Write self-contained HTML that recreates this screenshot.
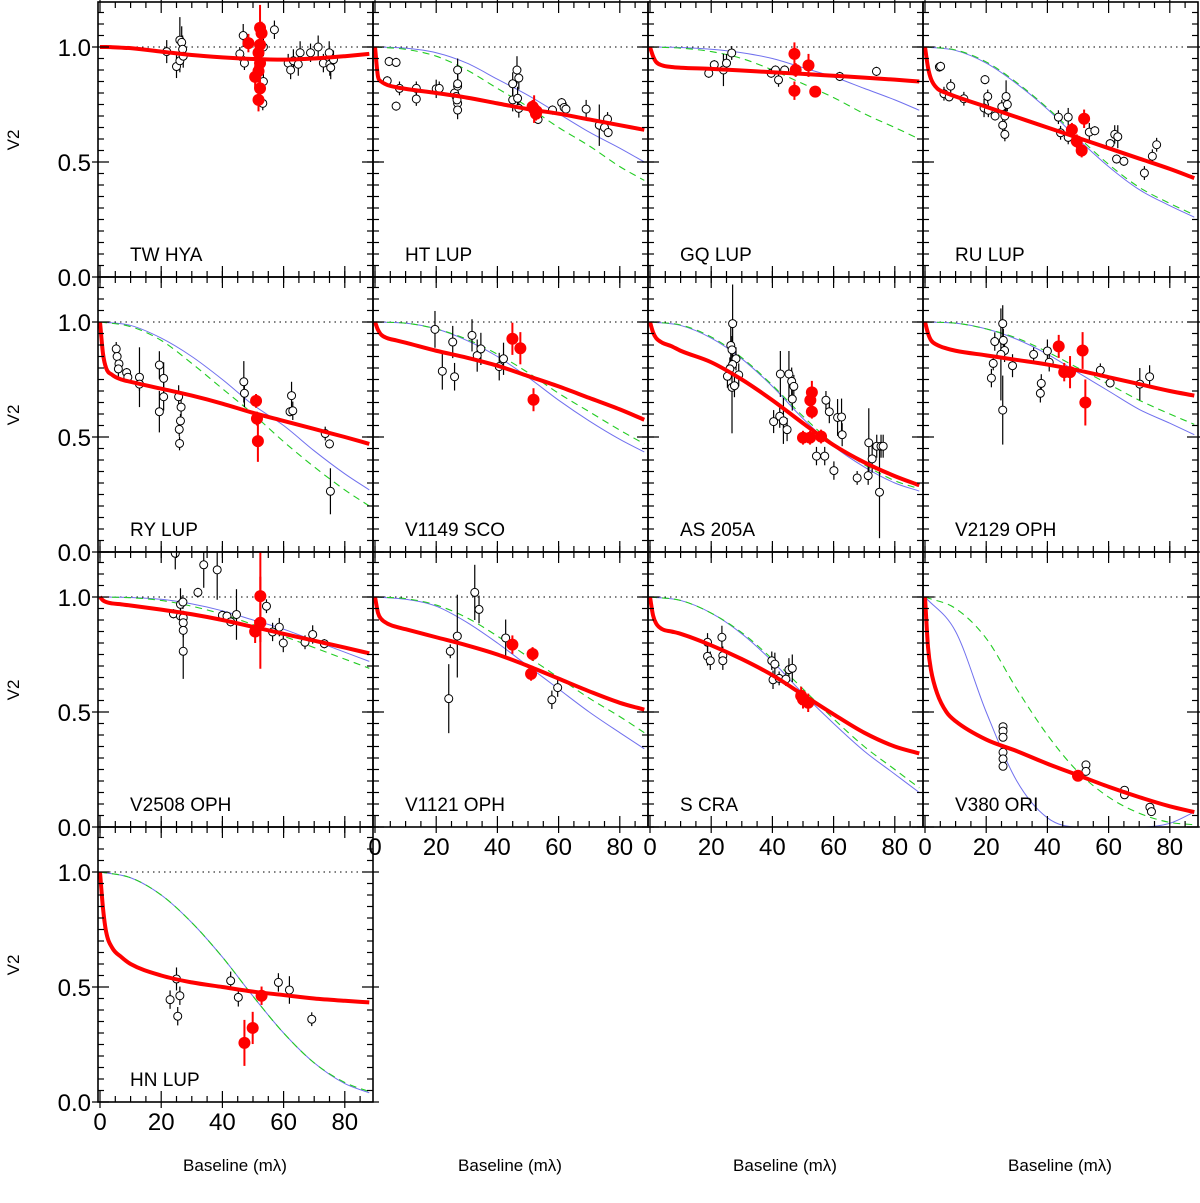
<!DOCTYPE html>
<html><head><meta charset="utf-8">
<style>
html,body{margin:0;padding:0;background:#fff;}
svg{display:block;font-family:"Liberation Sans",Arial,sans-serif;}
</style></head>
<body>
<svg id="fig" width="1200" height="1203" viewBox="0 0 1200 1203" xmlns="http://www.w3.org/2000/svg"></svg>
<script>
// ---------- shared grids ----------
const redGrid = [0,1,2,4,7,10,20,30,40,50,60,70,80,88];
const modelGrid = [0,10,20,30,40,50,60,70,80,88];
const yTickLabels = ["0.0","0.5","1.0"];
const yTickValues = [0,0.5,1.0];
const xTickLabels = ["0","20","40","60","80"];
const xTickValues = [0,20,40,60,80];

// ---------- TW HYA ----------
const twhyaOpen = [[21.8,0.98,0.05],[25,0.915,0.05],[26.1,1.03,0.1],[26.7,1.02,0.07],[27,0.99,0.06],[26.1,0.94,0.05],[27.2,0.96,0.05],[46.8,1.05,0.05],[45.7,0.97,0.03],[47.2,0.93,0.03],[53.4,1.0,0.04],[53.4,0.85,0.04],[53.2,0.755,0.03],[57,1.075,0.04],[61.5,0.93,0.04],[62.3,0.9,0.04],[63.2,0.94,0.05],[64.8,0.925,0.05],[65.4,0.975,0.05],[68.8,0.975,0.04],[71.3,1.0,0.05],[73,0.93,0.04],[74.9,0.975,0.05],[75.1,0.925,0.05],[75.4,0.91,0.05],[76.3,0.945,0.04]];
const twhyaRed = [[48.5,1.017,0.04],[52.3,1.083,0.1],[52.8,1.06,0.05],[52.3,1.01,0.05],[51.8,0.975,0.05],[52.3,0.93,0.05],[51.8,0.895,0.05],[50.7,0.87,0.05],[52.3,0.82,0.05],[51.8,0.77,0.05]];
const twhyaRedModel = [1,1,1,0.999,0.997,0.995,0.98,0.965,0.955,0.948,0.945,0.95,0.96,0.97];
const twhyaBlue = [1,0.995,0.98,0.965,0.955,0.948,0.945,0.95,0.96,0.97];
const twhyaGreen = [1,0.995,0.98,0.965,0.955,0.948,0.945,0.95,0.96,0.97];

// ---------- HT LUP ----------
const htlupOpen = [[4,0.853,0.02],[4.6,0.937,0.02],[6.9,0.933,0.02],[6.9,0.743,0.02],[8,0.82,0.03],[13.5,0.82,0.03],[13.5,0.774,0.03],[20,0.818,0.04],[21,0.82,0.03],[26,0.8,0.04],[26.5,0.785,0.05],[27,0.83,0.06],[27,0.755,0.04],[27,0.726,0.04],[27,0.9,0.05],[27,0.84,0.05],[26.8,0.77,0.04],[45,0.84,0.05],[45,0.77,0.05],[46.4,0.9,0.06],[47,0.865,0.05],[46.6,0.777,0.05],[47,0.733,0.04],[53.3,0.685,0.02],[58,0.726,0.02],[61,0.758,0.02],[61.8,0.737,0.03],[62.4,0.73,0.03],[69,0.73,0.04],[73.3,0.66,0.09],[75,0.65,0.02],[76,0.687,0.03],[76.2,0.628,0.02]];
const htlupRed = [[52,0.73,0.06],[52.6,0.71,0.03],[51.5,0.74,0.03],[52.8,0.72,0.03]];
const htlupRedModel = [1,0.87,0.85,0.835,0.825,0.818,0.8,0.78,0.755,0.73,0.71,0.685,0.66,0.64];
const htlupBlue = [1,0.995,0.975,0.93,0.86,0.79,0.71,0.63,0.56,0.5];
const htlupGreen = [1,0.99,0.96,0.9,0.82,0.74,0.65,0.57,0.48,0.42];

// ---------- GQ LUP ----------
const gqlupOpen = [[19.2,0.886,0.02],[21,0.923,0.02],[24,0.9,0.07],[25,0.93,0.04],[26.7,0.974,0.03],[39.6,0.886,0.02],[41,0.9,0.02],[42,0.857,0.03],[44,0.9,0.02],[62,0.872,0.02],[74,0.894,0.02]];
const gqlupRed = [[47.2,0.97,0.05],[47.2,0.81,0.04],[51.8,0.92,0.05],[54,0.806,0.02],[47.6,0.9,0.03]];
const gqlupRedModel = [1,0.96,0.935,0.92,0.913,0.91,0.905,0.898,0.89,0.883,0.875,0.867,0.858,0.85];
const gqlupBlue = [1,0.998,0.99,0.975,0.95,0.91,0.87,0.82,0.77,0.725];
const gqlupGreen = [1,0.995,0.98,0.95,0.9,0.84,0.78,0.71,0.65,0.6];

// ---------- RU LUP ----------
const rulupOpen = [[4.7,0.913,0.02],[5.1,0.916,0.02],[6.2,0.797,0.03],[7.9,0.783,0.02],[8.4,0.83,0.03],[12.7,0.775,0.03],[19.6,0.858,0.02],[19.3,0.735,0.04],[20.5,0.785,0.03],[20.7,0.725,0.03],[22.9,0.7,0.02],[25.1,0.74,0.03],[25.4,0.66,0.03],[26.1,0.62,0.03],[26.5,0.785,0.07],[26.9,0.75,0.03],[26.1,0.7,0.04],[43.6,0.695,0.03],[44.3,0.627,0.03],[46.8,0.695,0.04],[46.8,0.607,0.03],[53.7,0.63,0.04],[55.5,0.636,0.02],[60.5,0.58,0.02],[62,0.62,0.04],[63,0.61,0.05],[62.6,0.513,0.02],[65,0.503,0.02],[71.7,0.452,0.03],[74.3,0.525,0.03],[75.7,0.575,0.03]];
const rulupRed = [[52,0.688,0.04],[48,0.64,0.03],[49.6,0.59,0.03],[51.2,0.55,0.03]];
const rulupRedModel = [1,0.91,0.86,0.82,0.8,0.785,0.74,0.695,0.65,0.605,0.56,0.515,0.47,0.43];
const rulupBlue = [1,0.985,0.93,0.84,0.73,0.6,0.48,0.38,0.31,0.26];
const rulupGreen = [1,0.987,0.935,0.845,0.735,0.61,0.49,0.39,0.32,0.27];

// ---------- RY LUP ----------
const rylupOpen = [[5.3,0.883,0.03],[5.6,0.85,0.03],[6.2,0.818,0.04],[6,0.796,0.04],[8.7,0.78,0.02],[9.1,0.76,0.02],[12.9,0.76,0.13],[12.9,0.73,0.03],[19.4,0.813,0.06],[20.8,0.755,0.07],[20.8,0.675,0.06],[19.4,0.61,0.09],[25.7,0.675,0.05],[26.5,0.63,0.04],[26.3,0.57,0.03],[25.9,0.533,0.03],[26,0.472,0.03],[47,0.74,0.09],[47.2,0.69,0.06],[62.1,0.61,0.02],[63,0.614,0.04],[62.6,0.68,0.06],[73.6,0.515,0.03],[75,0.47,0.02],[75.3,0.264,0.1]];
const rylupRed = [[51,0.657,0.03],[51.3,0.58,0.03],[51.6,0.482,0.09]];
const rylupRedModel = [1,0.86,0.8,0.77,0.75,0.74,0.71,0.68,0.645,0.605,0.57,0.535,0.5,0.47];
const rylupBlue = [1,0.985,0.93,0.85,0.75,0.64,0.55,0.44,0.34,0.27];
const rylupGreen = [1,0.98,0.92,0.82,0.71,0.6,0.48,0.37,0.27,0.2];

// ---------- V1149 SCO ----------
const v1149Open = [[19.6,0.968,0.08],[22,0.786,0.08],[25.4,0.913,0.07],[26,0.762,0.06],[31.7,0.942,0.07],[33.4,0.854,0.07],[34.6,0.883,0.07],[40.6,0.806,0.06],[42,0.84,0.07]];
const v1149Red = [[44.9,0.927,0.07],[47.5,0.886,0.07],[51.8,0.662,0.05]];
const v1149RedModel = [1,0.965,0.945,0.93,0.92,0.91,0.875,0.845,0.81,0.765,0.72,0.67,0.62,0.575];
const v1149Blue = [1,0.995,0.97,0.92,0.85,0.76,0.66,0.57,0.49,0.435];
const v1149Green = [1,0.995,0.97,0.925,0.86,0.78,0.69,0.61,0.53,0.47];

// ---------- AS 205A ----------
const as205Open = [[27,0.993,0.17],[26.4,0.898,0.1],[26.8,0.879,0.06],[28.1,0.84,0.05],[27,0.815,0.05],[26.1,0.796,0.05],[25.3,0.764,0.05],[29,0.77,0.05],[26.8,0.716,0.2],[27.6,0.723,0.05],[42.6,0.774,0.1],[45.4,0.774,0.1],[46.3,0.742,0.06],[47,0.72,0.05],[46.5,0.665,0.05],[40.4,0.567,0.05],[42.4,0.59,0.05],[43.6,0.57,0.1],[44.8,0.532,0.05],[57.5,0.66,0.04],[58.6,0.61,0.05],[61.3,0.585,0.08],[62.6,0.587,0.08],[62.8,0.51,0.05],[54.4,0.417,0.04],[57.1,0.417,0.04],[60.1,0.354,0.04],[67.7,0.322,0.03],[71.3,0.332,0.04],[71.5,0.475,0.15],[72.6,0.405,0.06],[74.1,0.46,0.05],[75.5,0.46,0.05],[76.2,0.46,0.05],[75,0.26,0.2]];
const as205Red = [[52.9,0.694,0.05],[52.4,0.66,0.04],[52.9,0.61,0.03],[50,0.497,0.03],[52.3,0.497,0.03],[55.9,0.502,0.03]];
const as205RedModel = [1,0.955,0.93,0.91,0.895,0.875,0.825,0.75,0.66,0.56,0.465,0.39,0.33,0.29];
const as205Blue = [1,0.985,0.93,0.84,0.72,0.58,0.46,0.37,0.3,0.265];
const as205Green = [1,0.987,0.935,0.845,0.725,0.59,0.47,0.38,0.31,0.275];

// ---------- V2129 OPH ----------
const v2129Open = [[22.8,0.915,0.04],[22.3,0.82,0.03],[21.7,0.756,0.04],[25.4,0.993,0.08],[25.6,0.92,0.05],[26,0.876,0.05],[24.8,0.859,0.2],[25.4,0.617,0.15],[28.6,0.81,0.05],[35.5,0.859,0.03],[38,0.733,0.04],[37.7,0.69,0.04],[40,0.874,0.05],[40.6,0.825,0.04],[57.3,0.79,0.03],[60.5,0.735,0.02],[70.2,0.73,0.07],[73.4,0.762,0.05]];
const v2129Red = [[43.7,0.894,0.05],[51.5,0.876,0.08],[45.5,0.782,0.04],[47.4,0.782,0.07],[52.4,0.65,0.1]];
const v2129RedModel = [1,0.95,0.92,0.9,0.885,0.875,0.855,0.835,0.815,0.79,0.76,0.73,0.7,0.68];
const v2129Blue = [1,0.995,0.97,0.925,0.86,0.78,0.7,0.62,0.56,0.51];
const v2129Green = [1,0.995,0.97,0.93,0.87,0.8,0.73,0.66,0.6,0.555];

// ---------- V2508 OPH ----------
const v2508Open = [[24.6,1.19,0.07],[33.9,1.14,0.1],[38.3,1.118,0.13],[32,1.02,0.02],[24,0.927,0.02],[26.3,0.968,0.07],[27.1,0.978,0.03],[26.3,0.917,0.03],[27.2,0.91,0.03],[27.2,0.888,0.03],[27.2,0.855,0.03],[27.2,0.764,0.12],[40,0.92,0.02],[41.5,0.917,0.02],[42.7,0.892,0.02],[44.6,0.924,0.11],[54.4,0.96,0.03],[56.4,0.848,0.04],[58.6,0.869,0.04],[59.9,0.8,0.04],[67,0.803,0.03],[69.5,0.837,0.04],[73.3,0.797,0.02]];
const v2508Red = [[52.4,1.004,0.2],[52.4,0.888,0.2],[50.7,0.85,0.05]];
const v2508RedModel = [1,0.985,0.978,0.972,0.968,0.963,0.945,0.925,0.9,0.87,0.84,0.81,0.78,0.755];
const v2508Blue = [1,0.998,0.99,0.97,0.94,0.9,0.86,0.81,0.76,0.72];
const v2508Green = [1,0.997,0.985,0.96,0.925,0.88,0.83,0.78,0.73,0.69];

// ---------- V1121 OPH ----------
const v1121Open = [[32.6,1.02,0.12],[34,0.946,0.06],[26.9,0.83,0.18],[24.6,0.764,0.03],[24.1,0.558,0.15],[42.7,0.822,0.08],[59.7,0.606,0.04],[57.8,0.553,0.04]];
const v1121Red = [[44.9,0.793,0.04],[51.5,0.752,0.03],[51,0.666,0.03]];
const v1121RedModel = [1,0.93,0.905,0.885,0.87,0.86,0.825,0.79,0.75,0.7,0.645,0.59,0.54,0.51];
const v1121Blue = [1,0.99,0.96,0.89,0.8,0.7,0.6,0.5,0.41,0.34];
const v1121Green = [1,0.993,0.965,0.91,0.83,0.74,0.65,0.56,0.48,0.41];

// ---------- S CRA ----------
const scraOpen = [[18.8,0.803,0.04],[18.8,0.742,0.04],[19.7,0.723,0.04],[23.5,0.825,0.05],[23.8,0.745,0.04],[23.8,0.723,0.04],[39.8,0.723,0.04],[40.8,0.708,0.05],[40.2,0.64,0.04],[42.2,0.646,0.03],[44.4,0.643,0.03],[45.4,0.684,0.05],[46.5,0.69,0.06]];
const scraRed = [[50,0.555,0.04],[51.7,0.54,0.04],[49.4,0.57,0.04]];
const scraRedModel = [1,0.92,0.885,0.86,0.85,0.84,0.79,0.73,0.66,0.575,0.49,0.41,0.35,0.32];
const scraBlue = [1,0.985,0.93,0.84,0.72,0.58,0.45,0.33,0.23,0.15];
const scraGreen = [1,0.985,0.93,0.845,0.73,0.6,0.47,0.35,0.25,0.17];

// ---------- V380 ORI ----------
const v380Open = [[25.5,0.436,0.01],[25.5,0.417,0.01],[25.5,0.39,0.01],[25.5,0.325,0.01],[25.5,0.296,0.01],[25.5,0.264,0.01],[52.6,0.27,0.01],[52.6,0.242,0.01],[65.2,0.16,0.01],[65.2,0.14,0.01],[73.5,0.086,0.01],[74,0.067,0.01]];
const v380Red = [[50,0.223,0.02]];
const v380RedModel = [1,0.78,0.68,0.58,0.5,0.46,0.38,0.33,0.275,0.225,0.175,0.13,0.09,0.065];
const v380Blue = [1,0.85,0.5,0.2,0.04,0,0,0,0.016,0.065];
const v380Green = [1,0.95,0.82,0.6,0.4,0.24,0.13,0.06,0.02,0.01];

// ---------- HN LUP ----------
const hnlupOpen = [[22.9,0.445,0.04],[25,0.535,0.05],[25.4,0.373,0.04],[26.1,0.462,0.04],[42.7,0.527,0.04],[45.2,0.455,0.04],[58.3,0.52,0.04],[61.9,0.487,0.06],[69.2,0.36,0.03]];
const hnlupRed = [[47.2,0.257,0.1],[49.9,0.322,0.07],[52.8,0.462,0.04]];
const hnlupRedModel = [1,0.84,0.74,0.67,0.63,0.6,0.55,0.52,0.5,0.48,0.465,0.45,0.44,0.433];
const hnlupBlue = [1,0.975,0.9,0.78,0.63,0.46,0.3,0.17,0.08,0.04];
const hnlupGreen = [1,0.975,0.9,0.78,0.63,0.46,0.3,0.17,0.085,0.045];

const panels = [
 {name:"TW HYA",key:"tw-hya",col:0,row:0,open:twhyaOpen,red:twhyaRed,rm:twhyaRedModel,blue:twhyaBlue,green:twhyaGreen},
 {name:"HT LUP",key:"ht-lup",col:1,row:0,open:htlupOpen,red:htlupRed,rm:htlupRedModel,blue:htlupBlue,green:htlupGreen},
 {name:"GQ LUP",key:"gq-lup",col:2,row:0,open:gqlupOpen,red:gqlupRed,rm:gqlupRedModel,blue:gqlupBlue,green:gqlupGreen},
 {name:"RU LUP",key:"ru-lup",col:3,row:0,open:rulupOpen,red:rulupRed,rm:rulupRedModel,blue:rulupBlue,green:rulupGreen},
 {name:"RY LUP",key:"ry-lup",col:0,row:1,open:rylupOpen,red:rylupRed,rm:rylupRedModel,blue:rylupBlue,green:rylupGreen},
 {name:"V1149 SCO",key:"v1149-sco",col:1,row:1,open:v1149Open,red:v1149Red,rm:v1149RedModel,blue:v1149Blue,green:v1149Green},
 {name:"AS 205A",key:"as-205a",col:2,row:1,open:as205Open,red:as205Red,rm:as205RedModel,blue:as205Blue,green:as205Green},
 {name:"V2129 OPH",key:"v2129-oph",col:3,row:1,open:v2129Open,red:v2129Red,rm:v2129RedModel,blue:v2129Blue,green:v2129Green},
 {name:"V2508 OPH",key:"v2508-oph",col:0,row:2,open:v2508Open,red:v2508Red,rm:v2508RedModel,blue:v2508Blue,green:v2508Green},
 {name:"V1121 OPH",key:"v1121-oph",col:1,row:2,open:v1121Open,red:v1121Red,rm:v1121RedModel,blue:v1121Blue,green:v1121Green},
 {name:"S CRA",key:"s-cra",col:2,row:2,open:scraOpen,red:scraRed,rm:scraRedModel,blue:scraBlue,green:scraGreen},
 {name:"V380 ORI",key:"v380-ori",col:3,row:2,open:v380Open,red:v380Red,rm:v380RedModel,blue:v380Blue,green:v380Green},
 {name:"HN LUP",key:"hn-lup",col:0,row:3,open:hnlupOpen,red:hnlupRed,rm:hnlupRedModel,blue:hnlupBlue,green:hnlupGreen}
];

const NS="http://www.w3.org/2000/svg";
const svg=document.getElementById('fig');
function mk(tag,attrs,parent){const e=document.createElementNS(NS,tag);for(const k in attrs)e.setAttribute(k,attrs[k]);(parent||svg).appendChild(e);return e;}

const PW=275, XS=3.06, YS=230;
function panelBox(p){const L=98+PW*p.col;const B=277+PW*p.row;return {L:L,B:B,T:B-PW,R:L+PW};}
function xScale(box,v){return box.L+2+XS*v;}
function yScale(box,v){return box.B-YS*v;}

function monoPath(xs,ys){
  const n=xs.length;const m=[],t=[];
  for(let i=0;i<n-1;i++)m.push((ys[i+1]-ys[i])/(xs[i+1]-xs[i]));
  t[0]=m[0];t[n-1]=m[n-2];
  for(let i=1;i<n-1;i++){t[i]=(m[i-1]*m[i]<=0)?0:(m[i-1]+m[i])/2;}
  for(let i=0;i<n-1;i++){
    if(m[i]===0){t[i]=0;t[i+1]=0;continue;}
    const a=t[i]/m[i],b=t[i+1]/m[i],s=a*a+b*b;
    if(s>9){const tau=3/Math.sqrt(s);t[i]=tau*a*m[i];t[i+1]=tau*b*m[i];}
  }
  let d="M"+xs[0].toFixed(2)+","+ys[0].toFixed(2);
  for(let i=0;i<n-1;i++){const h=(xs[i+1]-xs[i])/3;
    d+=" C"+(xs[i]+h).toFixed(2)+","+(ys[i]+t[i]*h).toFixed(2)+" "+(xs[i+1]-h).toFixed(2)+","+(ys[i+1]-t[i+1]*h).toFixed(2)+" "+xs[i+1].toFixed(2)+","+ys[i+1].toFixed(2);}
  return d;
}

panels.forEach(function(p,pi){
  const box=panelBox(p);
  const g=mk('g',{});
  
  
  const clipId='clip'+pi;
  const cp=mk('clipPath',{id:clipId},g);
  mk('rect',{x:box.L,y:box.T,width:PW,height:PW},cp);
  // dotted unity line
  const dl=mk('line',{x1:box.L,x2:box.R,y1:yScale(box,1),y2:yScale(box,1),stroke:'#000','stroke-width':1,'stroke-dasharray':'1.5,4'},g);
  
  
  const cg=mk('g',{'clip-path':'url(#'+clipId+')'},g);
  // models
  const mx=modelGrid.map(v=>xScale(box,v));
  const bl=mk('path',{d:monoPath(mx,p.blue.map(v=>yScale(box,v))),fill:'none',stroke:'#7070ee','stroke-width':1},cg);
  
  
  const gl=mk('path',{d:monoPath(mx,p.green.map(v=>yScale(box,v))),fill:'none',stroke:'#22cc22','stroke-width':1.1,'stroke-dasharray':'7,5'},cg);
  
  
  // open points
  p.open.forEach(function(d){
    const x=xScale(box,d[0]),y=yScale(box,d[1]),e=YS*d[2];
    const eb=mk('line',{x1:x,x2:x,y1:y-e,y2:y+e,stroke:'#000','stroke-width':1.2},cg);
    
    
  });
  p.open.forEach(function(d){
    const c=mk('circle',{cx:xScale(box,d[0]),cy:yScale(box,d[1]),r:4,fill:'#fff',stroke:'#000','stroke-width':1},cg);
    
    
  });
  // red model
  const rl=mk('path',{d:monoPath(redGrid.map(v=>xScale(box,v)),p.rm.map(v=>yScale(box,v))),fill:'none',stroke:'#ff0000','stroke-width':4,'stroke-linejoin':'round'},cg);
  
  
  // red points
  p.red.forEach(function(d){
    const x=xScale(box,d[0]),y=yScale(box,d[1]),e=YS*d[2];
    const eb=mk('line',{x1:x,x2:x,y1:y-e,y2:y+e,stroke:'#ff0000','stroke-width':2},cg);
    
    
    const c=mk('circle',{cx:x,cy:y,r:6,fill:'#ff0000'},cg);
    
    
  });
  // frame
  const fr=mk('rect',{x:box.L,y:box.T,width:PW,height:PW,fill:'none',stroke:'#000','stroke-width':1.6},g);
  
  
  // y ticks
  for(let k=0;k<=24;k++){
    const v=k*0.05;const y=yScale(box,v);if(y<box.T+1)continue;
    const major=(k%10===0);
    const li=major?11:6, lo=major?6:0;
    mk('line',{x1:box.L-lo,x2:box.L+li,y1:y,y2:y,stroke:'#000','stroke-width':1.2},g);
    mk('line',{x1:box.R-li,x2:box.R+lo,y1:y,y2:y,stroke:'#000','stroke-width':1.2},g);
  }
  // x ticks
  for(let v=0;v<=85;v+=5){
    const x=xScale(box,v);const major=(v%20===0);
    const li=major?11:6, lo=major?6:0;
    mk('line',{x1:x,x2:x,y1:box.B+lo,y2:box.B-li,stroke:'#000','stroke-width':1.2},g);
    mk('line',{x1:x,x2:x,y1:box.T-lo,y2:box.T+li,stroke:'#000','stroke-width':1.2},g);
  }
  // label
  const t=mk('text',{x:box.L+32,y:box.B-16,'font-size':19,fill:'#000'},g);
  t.textContent=p.name;
  
  
  // y tick labels (first column)
  if(p.col===0){
    yTickValues.forEach(function(v,i){
      const tl=mk('text',{x:91,y:yScale(box,v)+9,'font-size':24,'text-anchor':'end',fill:'#000'},svg);
      tl.textContent=yTickLabels[i];
      
      
    });
    const yl=mk('text',{x:0,y:0,'font-size':17,'text-anchor':'middle',fill:'#000',transform:'translate(19,'+(box.B-137)+') rotate(-90)'},svg);
    yl.textContent='V2';
    
    
  }
  // x tick labels (bottom panels)
  const isBottom=(p.row===3)||(p.row===2&&p.col>0);
  if(isBottom){
    xTickValues.forEach(function(v,i){
      const tl=mk('text',{x:xScale(box,v),y:box.B+28,'font-size':24,'text-anchor':'middle',fill:'#000'},svg);
      tl.textContent=xTickLabels[i];
      
      
    });
  }
});
// x-axis titles
[235,510,785,1060].forEach(function(cx){
  const xt=mk('text',{x:cx,y:1171,'font-size':17,'text-anchor':'middle',fill:'#000'},svg);
  xt.textContent='Baseline (mλ)';
  
  
});
</script>
</body></html>
